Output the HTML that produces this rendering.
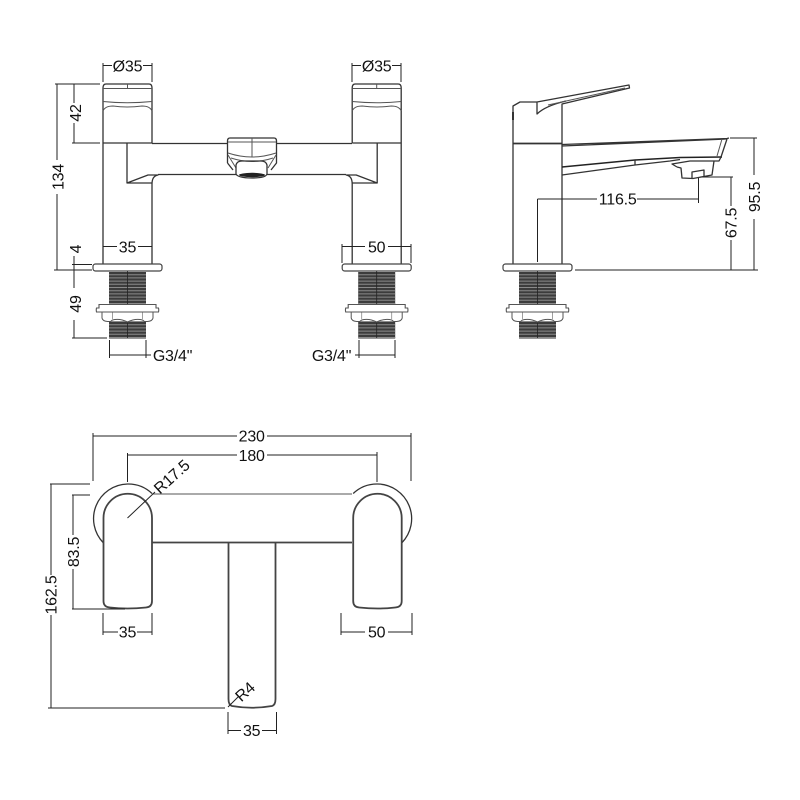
<!DOCTYPE html>
<html>
<head>
<meta charset="utf-8">
<style>
html,body{margin:0;padding:0;background:#fff;width:800px;height:800px;overflow:hidden}
svg{display:block;filter:blur(0.35px)}
text{font-family:"Liberation Sans",sans-serif;font-size:16px;letter-spacing:-0.2px;fill:#111;text-anchor:middle}
.o{fill:none;stroke:#333;stroke-width:1.3;stroke-linejoin:round}
.t{fill:none;stroke:#555;stroke-width:1}
.d{fill:none;stroke:#222;stroke-width:1}
.p{fill:none;stroke:#444;stroke-width:1.8}
</style>
</head>
<body>
<svg width="800" height="800" viewBox="0 0 800 800" xmlns="http://www.w3.org/2000/svg">
<defs>
  <g id="fixing">
    <rect x="-34.500" y="264" width="69" height="7" rx="2.500" fill="#fff" stroke="#444" stroke-width="1.200"/>
    <rect x="-18.500" y="271" width="37" height="33" fill="#3c3c3c"/>
    <rect x="-18.500" y="321" width="37" height="17" fill="#3c3c3c"/>
    <path d="M0 271V304M0 321V338" stroke="#8a8a8a" stroke-width="37" stroke-dasharray="1 2.200" fill="none"/>
    <path d="M0 271V338" stroke="#222" stroke-width="0.800"/>
    <path d="M-25.500 312V318Q-25 321 -20 321.500H-17L-15 320Q-8 318 0 322Q8 318 15 320L17 321.500H20Q25 321 25.500 318V312" fill="#fff" stroke="#555" stroke-width="1"/>
    <path d="M-15 312V319M15 312V319" stroke="#888" stroke-width="0.800" fill="none"/>
    <path d="M-28.500 304.500H28.500V308H31Q31.500 310 31 312H-31Q-31.500 310 -31 308H-28.500Z" fill="#fff" stroke="#555" stroke-width="1.100"/>
    <path d="M-18.500 338.500H18.500" stroke="#999" stroke-width="1"/>
  </g>
  <g id="tapFront">
    <path class="o" d="M103 143V88Q103 84 106 84H149Q152 84 152 88V143"/>
    <path class="t" d="M103 88.500H152M127.500 84V88.500M103 101.500Q127 104 152 101.500M103 111Q105 106 113 106Q127 108 142 106Q150 106 152 111"/>
    <path class="o" d="M103 143H152"/>
    <path class="o" d="M103 143V264M127 143V183L148 175H158Q152 176 152 184V264M127 183H152"/>
  </g>
  <g id="plan">
    <path class="o" d="M103.500 543A34.700 34.700 0 0 1 127.500 484A34.700 34.700 0 0 1 152 493.500"/>
    <path class="p" d="M103.500 518A24.250 24.250 0 0 1 152 518V601Q152 607 146 607.500Q127 609.500 110 607.500Q103.500 607 103.500 601Z" fill="#fff"/>
  </g>
</defs>

<!-- Front view -->
<use href="#tapFront"/>
<use href="#tapFront" transform="matrix(-1 0 0 1 504.200 0)"/>
<path class="o" d="M152 143.500H227M277 143.500H352M158 174.500H236M267 174.500H346"/>
<use href="#fixing" x="127.500"/>
<use href="#fixing" x="376.700"/>

<!-- Centre outlet -->
<path class="o" d="M227.500 163V141Q227.500 138 230 138H274Q276.500 138 276.500 141V163L271 170M227.500 163L233 170"/>
<path class="t" d="M228 155L236 168M276 155L268 168M252 138V157M228 153Q252 161 276 153M231 158Q252 165 273 158M228 142H276"/>
<path class="o" d="M236 174V165Q237 161 242 161H261Q266 161 267 165V174Q266 178 252 178Q238 178 236 174Z" fill="#fff"/>
<ellipse cx="252" cy="175" rx="13" ry="2.200" fill="#222"/>

<!-- Side view -->
<path class="o" d="M513 264V106L520 102H537L629 85L629.500 88L562 104V143M537 102V114Q545 106 566 101"/>
<path class="t" d="M548 105L625 88"/>
<path d="M513 112V120" stroke="#333" stroke-width="2" fill="none"/>
<path d="M513 143.500H562" stroke="#333" stroke-width="1.800" fill="none"/>
<path class="o" d="M562 264V143"/>
<path class="o" d="M562 144.500L727 138.500L729 138M562 146L727 139"/>
<path d="M562 167L635 160L680 157.500L722 157" stroke="#222" stroke-width="1.600" fill="none"/>
<path class="o" d="M562 175L635 165L670 161L680 159.500M635 160V165M727 139L721 157L719 161H690L672 164L677 167"/>
<path class="t" d="M722 139L717 156"/>
<path class="o" d="M677 167L681 168L682 178L693 178.500L712 175L714 161M692 178V172L704 170V176"/>
<use href="#fixing" x="537.500"/>

<!-- Plan view -->
<use href="#plan"/>
<use href="#plan" transform="matrix(-1 0 0 1 505.200 0)"/>
<path class="p" d="M152 542.500H352M228.500 543V699Q228.500 705 232 706Q252 709.500 272 706Q275.500 705 275.500 699V543"/>
<path class="t" d="M152 494H352" stroke-width="1.400"/>

<!-- Dimensions -->
<g class="d">
  <path d="M103 63V82M152 63V82M103 65.500H112M143 65.500H152"/>
  <path d="M352 63V82M401 63V82M352 65.500H361M392 65.500H401"/>
  <path d="M55 84H100M57 84V160M57 194V270M54 270H92"/>
  <path d="M72 143H100M74 84V103M74 123V143"/>
  <path d="M74 256V270M72 264.500H92M74 270V288M74 320V338M72 338H107"/>
  <path d="M103 246.500H117M138 246.500H152"/>
  <path d="M342 244V263M411 244V263M342 246.500H365M388 246.500H411"/>
  <path d="M109.500 340V358M146 340V358M109.500 355H151"/>
  <path d="M359 340V358M395 340V358M355 355H395"/>
  <path d="M537.500 199V262M537.500 199H597M637 199H698.500M698.500 178V203"/>
  <path d="M700 177H733M731 177V206M731 240V270"/>
  <path d="M730 138H757M754 138V175M754 219V270M575 270H758" />
  <path d="M93 433V481M93 436H237M267 436H411M411 433V481"/>
  <path d="M127.500 453V482M127.500 455H237M267 455H377M377 452V482"/>
  <path d="M50 484H90M51 484V575M51 615V708M48 708H225"/>
  <path d="M72 495H90M73 495V535M73 569V609M72 609H125"/>
  <path d="M103 613V635M152 613V635M103 632H118M137 632H152"/>
  <path d="M341 613V635M412 613V635M341 632H365M388 632H412"/>
  <path d="M228 712V734M276.500 712V734M228 730.500H241M262 730.500H276.500"/>
  <path d="M127.500 518L155 492"/>
  <path d="M228 707L238 697"/>
</g>

<!-- Labels -->
<text x="127.500" y="71.500">Ø35</text>
<text x="376.700" y="71.500">Ø35</text>
<text transform="translate(63.500 177) rotate(-90)">134</text>
<text transform="translate(81 113) rotate(-90)">42</text>
<text transform="translate(81 249) rotate(-90)">4</text>
<text transform="translate(81 304) rotate(-90)">49</text>
<text x="127.500" y="252.500">35</text>
<text x="376.700" y="252.500">50</text>
<text x="172.500" y="361">G3/4"</text>
<text x="331.500" y="361">G3/4"</text>
<text x="617.700" y="204.500">116.5</text>
<text transform="translate(736.500 223) rotate(-90)">67.5</text>
<text transform="translate(760 197) rotate(-90)">95.5</text>
<text x="251.700" y="441.500">230</text>
<text x="251.700" y="461">180</text>
<text transform="translate(175.400 480.800) rotate(-42)">R17.5</text>
<text transform="translate(56.500 595) rotate(-90)">162.5</text>
<text transform="translate(79 552) rotate(-90)">83.5</text>
<text x="127.500" y="637.500">35</text>
<text x="376.700" y="637.500">50</text>
<text transform="translate(248.700 695.800) rotate(-42)">R4</text>
<text x="251.700" y="736">35</text>
</svg>
</body>
</html>
